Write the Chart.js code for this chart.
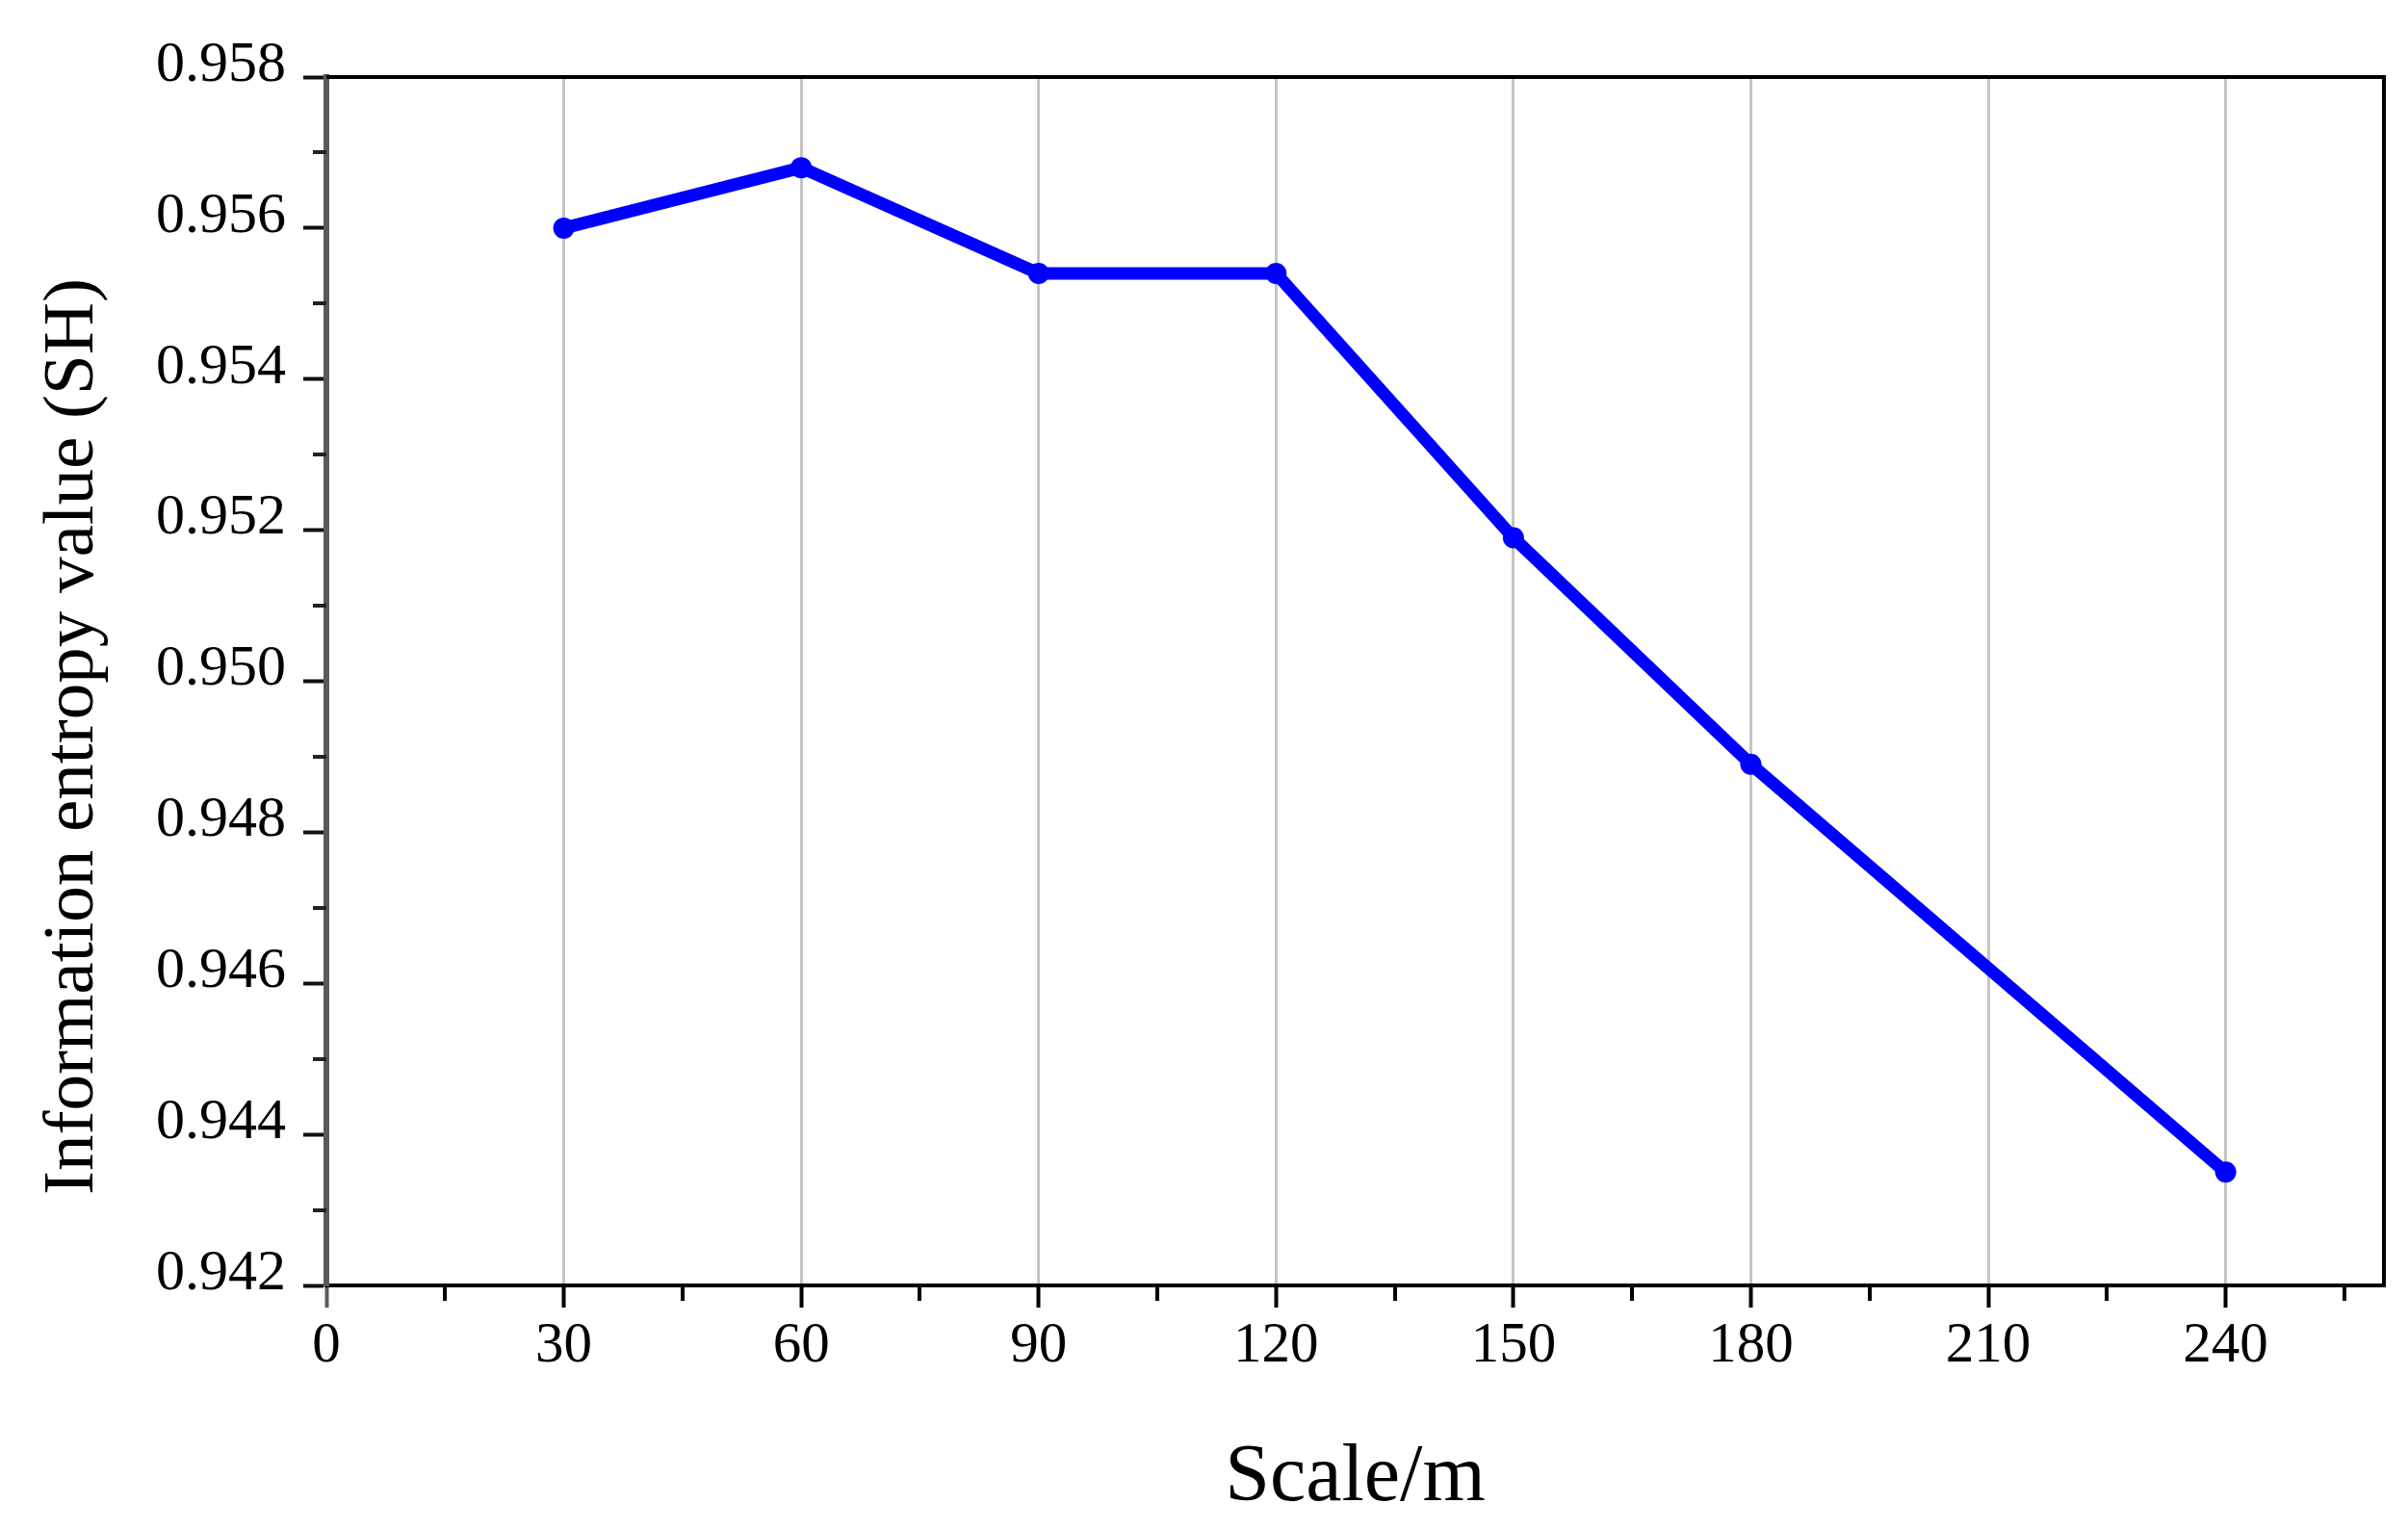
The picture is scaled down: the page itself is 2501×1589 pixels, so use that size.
<!DOCTYPE html>
<html>
<head>
<meta charset="utf-8">
<title>Information entropy vs scale</title>
<script src="https://cdn.jsdelivr.net/npm/chart.js@4/dist/chart.umd.min.js"></script>
<style>
  html, body { margin: 0; padding: 0; background: #fff; }
  #wrap { width: 2501px; height: 1589px; }
</style>
</head>
<body>
<div id="wrap"><canvas id="chart" width="2501" height="1589"></canvas></div>
<script>
// ---------- DATA ----------

const scaleValues = [30, 60, 90, 120, 150, 180, 240];
const entropyValues = [0.9560, 0.9568, 0.9554, 0.9554, 0.9519, 0.9489, 0.9435];

const xMajorTicks = [0, 30, 60, 90, 120, 150, 180, 210, 240];
const xMinorTicks = [15, 45, 75, 105, 135, 165, 195, 225, 255];
const yMajorTicks = [0.942, 0.944, 0.946, 0.948, 0.950, 0.952, 0.954, 0.956, 0.958];
const yMinorTicks = [0.943, 0.945, 0.947, 0.949, 0.951, 0.953, 0.955, 0.957];

const xTitle = "Scale/m";
const yTitle = "Information entropy value (SH)";

// ---------- STYLE ----------

const serif = "'Liberation Serif', 'Times New Roman', serif";
const lineBlue = "#0000ff";
const gridGray = "#c4c4c4";
const spineGray = "#5a5a5a";

// ---------- PLUGINS ----------

// top + right frame lines and the short minor ticks
const framePlugin = {
  id: "frame",
  afterDraw(chart) {
    const { ctx, chartArea } = chart;
    const xs = chart.scales.x;
    const ys = chart.scales.y;
    ctx.save();

    ctx.strokeStyle = "#000";
    ctx.lineWidth = 4;
    ctx.beginPath();
    ctx.moveTo(chartArea.left, chartArea.top);
    ctx.lineTo(chartArea.right, chartArea.top);
    ctx.lineTo(chartArea.right, chartArea.bottom);
    ctx.stroke();

    // minor ticks on x
    ctx.lineWidth = 4;
    ctx.strokeStyle = "#000";
    xMinorTicks.forEach(v => {
      const px = Math.round(xs.getPixelForValue(v));
      ctx.beginPath();
      ctx.moveTo(px, chartArea.bottom);
      ctx.lineTo(px, chartArea.bottom + 16);
      ctx.stroke();
    });

    // minor ticks on y
    ctx.strokeStyle = "#222";
    yMinorTicks.forEach(v => {
      const py = Math.round(ys.getPixelForValue(v));
      ctx.beginPath();
      ctx.moveTo(chartArea.left, py);
      ctx.lineTo(chartArea.left - 14, py);
      ctx.stroke();
    });

    ctx.restore();
  }
};

// y title sits a bit below the centre of the axis, as in the figure
const yTitlePlugin = {
  id: "yTitle",
  afterDraw(chart) {
    const { ctx } = chart;
    ctx.save();
    ctx.translate(76, 765);
    ctx.rotate(-Math.PI / 2);
    ctx.font = "75px " + serif;
    ctx.fillStyle = "#000";
    ctx.textAlign = "center";
    ctx.textBaseline = "middle";
    ctx.fillText(yTitle, 0, 0);
    ctx.restore();
  }
};

// ---------- CHART ----------

const points = scaleValues.map((x, i) => ({ x: x, y: entropyValues[i] }));

new Chart(document.getElementById("chart"), {
  type: "line",
  data: {
    datasets: [
      {
        label: yTitle,
        data: points,
        borderColor: lineBlue,
        backgroundColor: lineBlue,
        borderWidth: 13,
        pointRadius: 11,
        pointBorderWidth: 0,
        pointBackgroundColor: lineBlue,
        tension: 0,
        fill: false
      }
    ]
  },
  options: {
    responsive: false,
    animation: false,
    devicePixelRatio: 1,
    layout: { padding: { top: 80, right: 25, left: 0, bottom: 0 } },
    plugins: {
      legend: { display: false },
      tooltip: { enabled: false }
    },
    scales: {
      x: {
        type: "linear",
        min: 0,
        max: 260,
        afterBuildTicks: s => { s.ticks = xMajorTicks.map(v => ({ value: v })); },
        afterFit: s => { s.height = 254; },
        border: { display: true, color: "#000", width: 4 },
        grid: {
          drawOnChartArea: true,
          color: c => (c.tick && c.tick.value === 0 ? "rgba(0,0,0,0)" : gridGray),
          lineWidth: 3,
          tickLength: 23,
          tickWidth: 4,
          tickColor: c => (c.tick && c.tick.value === 0 ? spineGray : "#000")
        },
        ticks: {
          font: { family: serif, size: 59 },
          color: "#000",
          padding: 5,
          maxRotation: 0,
          callback: v => String(v)
        },
        title: {
          display: true,
          text: xTitle,
          font: { family: serif, size: 84 },
          color: "#000",
          padding: { top: 0, bottom: 3 }
        }
      },
      y: {
        type: "linear",
        min: 0.942,
        max: 0.958,
        afterBuildTicks: s => { s.ticks = yMajorTicks.map(v => ({ value: v })); },
        afterFit: s => { s.width = 339; },
        border: { display: true, color: spineGray, width: 6 },
        grid: {
          drawOnChartArea: false,
          tickLength: 24,
          tickWidth: 4,
          tickColor: "#111"
        },
        ticks: {
          font: { family: serif, size: 60 },
          color: "#000",
          padding: 18,
          labelOffset: -12,
          callback: v => v.toFixed(3)
        }
      }
    }
  },
  plugins: [framePlugin, yTitlePlugin]
});
</script>
</body>
</html>
